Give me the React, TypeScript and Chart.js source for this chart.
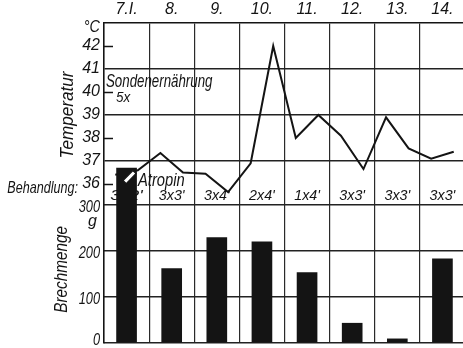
import React, { useEffect, useRef } from "react";
import { Chart, registerables } from "chart.js";

Chart.register(...registerables);

// ---- data ----
const days = ["7.I.", "8.", "9.", "10.", "11.", "12.", "13.", "14."];
const halfDays = days.flatMap((d) => [d + " morgens", d + " abends"]);
const temperature = [36.4, 36.6, 37.35, 36.5, 36.45, 35.65, 36.9, 42.0, 38.0, 39.0, 38.1, 36.65, 38.9, 37.55, 37.1, 37.4];
const vomitGrams = [380, 162, 229, 220, 153, 43, 9, 183];
const treatment = ["3x2'", "3x3'", "3x4'", "2x4'", "1x4'", "3x3'", "3x3'", "3x3'"];
const tempTicks = [36, 37, 38, 39, 40, 41, 42];
const tempGridLines = [37, 39, 41];
const tempDashes = [36, 38, 40, 42];
const weightTicks = [0, 100, 200, 300];

const FONT = '"Liberation Sans", "DejaVu Sans", sans-serif';
const INK = "#141414";

function drawText(ctx: any, text: string, x: number, y: number, size: number, align: string, sx: number, rot = 0) {
  ctx.save();
  ctx.translate(x, y);
  if (rot) ctx.rotate(rot);
  ctx.scale(sx, 1);
  ctx.font = `italic ${size}px ${FONT}`;
  ctx.textAlign = align;
  ctx.textBaseline = "middle";
  ctx.fillText(text, 0, 0);
  ctx.restore();
}

const annotations = {
  id: "annotations",
  beforeDatasetsDraw(chart: any) {
    const { ctx, chartArea } = chart;
    const x = chart.scales.x;
    const yT = chart.scales.yT;
    const yW = chart.scales.yW;
    ctx.save();
    ctx.fillStyle = INK;
    // treatment row
    const rowY = yW.getPixelForValue(300) - 9;
    treatment.forEach((t, i) => drawText(ctx, t, x.getPixelForValue(i), rowY, 15, "center", i === 0 ? 1.2 : 0.95));
    // inside dashes on temperature axis
    ctx.strokeStyle = INK;
    ctx.lineWidth = 1.5;
    tempDashes.forEach((v) => {
      const y = Math.round(yT.getPixelForValue(v)) + 0.5;
      ctx.beginPath();
      ctx.moveTo(chartArea.left, y);
      ctx.lineTo(chartArea.left + 9, y);
      ctx.stroke();
    });
    ctx.restore();
  },
  afterDraw(chart: any) {
    const { ctx, chartArea } = chart;
    const yT = chart.scales.yT;
    const yW = chart.scales.yW;
    const x = chart.scales.x;
    const labelX = chartArea.left - 4;
    ctx.save();
    ctx.fillStyle = INK;
    // unit of temperature
    drawText(ctx, "°C", labelX, chartArea.top + 5, 16, "right", 0.9);
    // weight axis labels
    weightTicks.forEach((v) => {
      const off = v === 0 ? -2 : 3;
      drawText(ctx, String(v), labelX, yW.getPixelForValue(v) + off, 16, "right", 0.8);
    });
    drawText(ctx, "g", labelX - 3, yW.getPixelForValue(300) + 17, 16, "right", 1);
    // axis titles
    drawText(ctx, "Temperatur", chartArea.left - 36, yT.getPixelForValue(39.0), 18, "center", 0.95, -Math.PI / 2);
    drawText(ctx, "Brechmenge", chartArea.left - 42, yW.getPixelForValue(160), 18, "center", 0.85, -Math.PI / 2);
    // Behandlung
    drawText(ctx, "Behandlung:", chartArea.left - 26, yT.getPixelForValue(35.8), 17, "right", 0.74);
    // notes
    drawText(ctx, "Sondenernährung", chartArea.left + 2, yT.getPixelForValue(40.45), 19, "left", 0.7);
    drawText(ctx, "5x", chartArea.left + 12, yT.getPixelForValue(39.75), 15, "left", 0.9);
    drawText(ctx, "Atropin", chartArea.left + 34, yT.getPixelForValue(36.15), 18, "left", 0.82);
    // atropin marker
    const mx = x.getPixelForValue(0) + 3;
    const my = yT.getPixelForValue(36.3);
    ctx.translate(mx, my);
    ctx.rotate(-0.8);
    ctx.fillStyle = "#fff";
    ctx.strokeStyle = INK;
    ctx.lineWidth = 1.2;
    ctx.beginPath();
    ctx.rect(-7, -2.2, 14, 4.4);
    ctx.fill();
    ctx.stroke();
    ctx.restore();
  },
};

export default function App() {
  const ref = useRef<HTMLCanvasElement | null>(null);
  useEffect(() => {
    if (!ref.current) return;
    const tickFont = { family: FONT, size: 16, style: "italic" as const };
    const chart = new Chart(ref.current, {
      type: "bar",
      data: {
        datasets: [
          {
            type: "bar",
            label: "Brechmenge",
            data: vomitGrams,
            xAxisID: "x",
            yAxisID: "yW",
            backgroundColor: INK,
            borderWidth: 0,
            grouped: false,
            barThickness: 20,
            order: 0,
          } as any,
          {
            type: "line",
            label: "Temperatur",
            data: temperature,
            xAxisID: "xHalf",
            yAxisID: "yT",
            borderColor: INK,
            borderWidth: 2,
            pointRadius: 0,
            tension: 0,
            fill: false,
            order: 1,
          } as any,
        ],
      },
      options: {
        animation: false,
        responsive: false,
        maintainAspectRatio: false,
        layout: { padding: { left: 0, right: 1, top: 0, bottom: 5 } },
        plugins: { legend: { display: false }, tooltip: { enabled: false } },
        scales: {
          x: {
            type: "category",
            labels: days,
            position: "top",
            offset: true,
            grid: { offset: true, color: "#2a2a2a", lineWidth: 1.2, drawTicks: false },
            border: { display: true, color: INK, width: 1.5 },
            ticks: { color: INK, font: tickFont, padding: 4, maxRotation: 0, autoSkip: false },
            afterFit: (s: any) => {
              s.height = 23;
              s.paddingLeft = 0;
              s.paddingRight = 0;
            },
          },
          xHalf: { type: "category", labels: halfDays, display: false, offset: true },
          yT: {
            type: "linear",
            position: "left",
            min: 29.087,
            max: 43,
            weight: 1,
            afterBuildTicks: (s: any) => {
              s.ticks = tempTicks.map((v) => ({ value: v }));
            },
            afterFit: (s: any) => {
              s.width = 104;
              s.paddingTop = 0;
              s.paddingBottom = 0;
            },
            ticks: {
              color: INK,
              font: tickFont,
              padding: 4,
              callback: (v: any) => String(v),
            },
            grid: {
              color: (c: any) => (c.tick && tempGridLines.includes(c.tick.value) ? "#222" : "rgba(0,0,0,0)"),
              lineWidth: 1.5,
              drawTicks: false,
            },
            border: { display: true, color: INK, width: 1.5 },
          },
          yW: {
            type: "linear",
            position: "left",
            min: 0,
            max: 695.65,
            weight: 0,
            afterBuildTicks: (s: any) => {
              s.ticks = weightTicks.map((v) => ({ value: v }));
            },
            afterFit: (s: any) => {
              s.width = 0;
              s.paddingTop = 0;
              s.paddingBottom = 0;
            },
            ticks: { display: false },
            grid: {
              color: "#222",
              lineWidth: 1.5,
              drawTicks: false,
            },
            border: { display: false },
          },
        },
      } as any,
      plugins: [annotations],
    });
    return () => chart.destroy();
  }, []);
  return (
    <div style={{ position: "absolute", left: 0, top: 0, width: 463, height: 348, overflow: "hidden", background: "#fff" }}>
      <canvas ref={ref} width={466} height={348} style={{ display: "block" }} />
    </div>
  );
}
